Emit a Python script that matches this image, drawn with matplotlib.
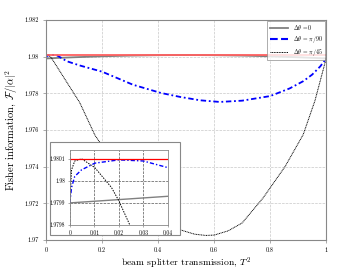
import numpy as np
import matplotlib
matplotlib.use("Agg")
import matplotlib.pyplot as plt
from matplotlib.lines import Line2D
from matplotlib.patches import Rectangle

plt.rcParams['font.family'] = 'serif'
plt.rcParams['font.serif'] = ['cmr10', 'DejaVu Serif']
plt.rcParams['mathtext.fontset'] = 'cm'
plt.rcParams['axes.unicode_minus'] = False

# values
bound = 1.98010

t_gray = [0, 0.04, 0.1, 0.2, 0.3, 0.4, 0.5, 0.6, 0.7, 0.8, 0.9, 0.96, 1.0]
f_gray = [1.97990, 1.97993, 1.979967, 1.98002, 1.980057, 1.98008, 1.980088,
          1.98008, 1.980057, 1.98002, 1.979967, 1.979929, 1.97990]

t_blue = [0, 0.0007, 0.002, 0.0048, 0.0102, 0.02, 0.03, 0.04, 0.074, 0.12,
          0.2, 0.31, 0.41, 0.48, 0.55, 0.62, 0.7, 0.8, 0.87, 0.918, 0.95,
          0.979, 1.0]
f_blue = [1.97990, 1.97997, 1.98002, 1.98005, 1.98008, 1.980095, 1.98009,
          1.98006, 1.97975, 1.97952, 1.97918, 1.97847, 1.97802, 1.97780,
          1.97762, 1.97753, 1.97760, 1.97785, 1.97827, 1.97866, 1.97902,
          1.97947, 1.97990]

t_black = [0, 0.0007, 0.002, 0.0048, 0.0102, 0.017, 0.02, 0.0245, 0.068,
           0.12, 0.175, 0.2, 0.3, 0.4, 0.48, 0.53, 0.57, 0.6, 0.65, 0.7,
           0.775, 0.853, 0.918, 0.96, 1.0]
f_black = [1.97990, 1.98005, 1.98009, 1.98010, 1.98006, 1.97997, 1.97991,
           1.97980, 1.97875, 1.97750, 1.97570, 1.97515, 1.97310, 1.97160,
           1.97055, 1.97032, 1.97025, 1.97027, 1.97050, 1.97093, 1.97230,
           1.97400, 1.97575, 1.97760, 1.97990]

main_xticks = [0, 0.2, 0.4, 0.6, 0.8, 1]
main_xlabels = ['0', '0.2', '0.4', '0.6', '0.8', '1']
main_yticks = [1.970, 1.972, 1.974, 1.976, 1.978, 1.980, 1.982]
main_ylabels = ['1.97', '1.972', '1.974', '1.976', '1.978', '1.98', '1.982']
ins_xticks = [0, 0.01, 0.02, 0.03, 0.04]
ins_xlabels = ['0', '0.01', '0.02', '0.03', '0.04']
ins_yticks = [1.9798, 1.9799, 1.9800, 1.9801]
ins_ylabels = ['1.9798', '1.9799', '1.98', '1.9801']

legend_labels = [r'$\Delta\theta$ =0', r'$\Delta\theta$ = $\pi$/90',
                 r'$\Delta\theta$ = $\pi$/45']

fig = plt.figure(figsize=(3.6, 2.7), dpi=100)
ax = fig.add_axes([0.128, 0.111, 0.778, 0.815])

ax.plot(t_gray, f_gray, color='#808080', lw=1.3)
ax.plot(t_blue, f_blue, color='blue', lw=1.3, dashes=(3, 1.5, 1, 1.5))
ax.plot(t_black, f_black, color='black', lw=0.7, dashes=(1, 0.7))
ax.axhline(bound, color='#ff6060', lw=1.3)

ax.set_xlim(0, 1)
ax.set_ylim(1.970, 1.982)
ax.set_xticks(main_xticks)
ax.set_xticklabels(main_xlabels)
ax.set_yticks(main_yticks)
ax.set_yticklabels(main_ylabels)
ax.tick_params(labelsize=4.5, length=2, width=0.5, color='#888888', pad=3)
ax.grid(True, ls='--', color='#c8c8c8', lw=0.5)
for s in ax.spines.values():
    s.set_color('#888888')
    s.set_linewidth(0.8)
ax.set_xlabel(r'beam splitter transmission, $T^2$', fontsize=7, labelpad=2)
ax.set_ylabel(r'Fisher information, $\mathcal{F}/|\alpha|^2$', fontsize=7.5, labelpad=3)

handles = [Line2D([], [], color='#808080', lw=1.3),
           Line2D([], [], color='blue', lw=1.5, ls='--'),
           Line2D([], [], color='black', lw=0.7, dashes=(1, 0.7))]
leg = ax.legend(handles, legend_labels, loc='upper right', fontsize=4.2,
                frameon=True, fancybox=False, edgecolor='#888888',
                handlelength=3.2, borderpad=0.4, labelspacing=0.3,
                borderaxespad=0.15)
leg.get_frame().set_linewidth(0.6)

# inset frame and axes
box = Rectangle((0.139, 0.1296), 0.361, 0.344, transform=fig.transFigure,
                facecolor='white', edgecolor='#888888', lw=0.8, zorder=3)
fig.patches.append(box)

ins = fig.add_axes([0.194, 0.1667, 0.272, 0.278])
ins.set_zorder(5)
ins.plot(t_gray, f_gray, color='#808080', lw=1.0)
ins.plot(t_blue, f_blue, color='blue', lw=1.0, dashes=(3, 1.5, 1, 1.5))
ins.plot(t_black, f_black, color='black', lw=0.7, dashes=(1.5, 1.2))
ins.axhline(bound, color='red', lw=0.9)
ins.set_xlim(0, 0.04)
ins.set_ylim(1.9798, 1.98014)
ins.set_xticks(ins_xticks)
ins.set_xticklabels(ins_xlabels)
ins.set_yticks(ins_yticks)
ins.set_yticklabels(ins_ylabels)
ins.tick_params(labelsize=4, length=1.5, width=0.5, color='#888888', pad=2)
ins.grid(True, ls='--', color='#555555', lw=0.5)
for s in ins.spines.values():
    s.set_color('#888888')
    s.set_linewidth(0.6)

fig.savefig('out.png', dpi=100)
